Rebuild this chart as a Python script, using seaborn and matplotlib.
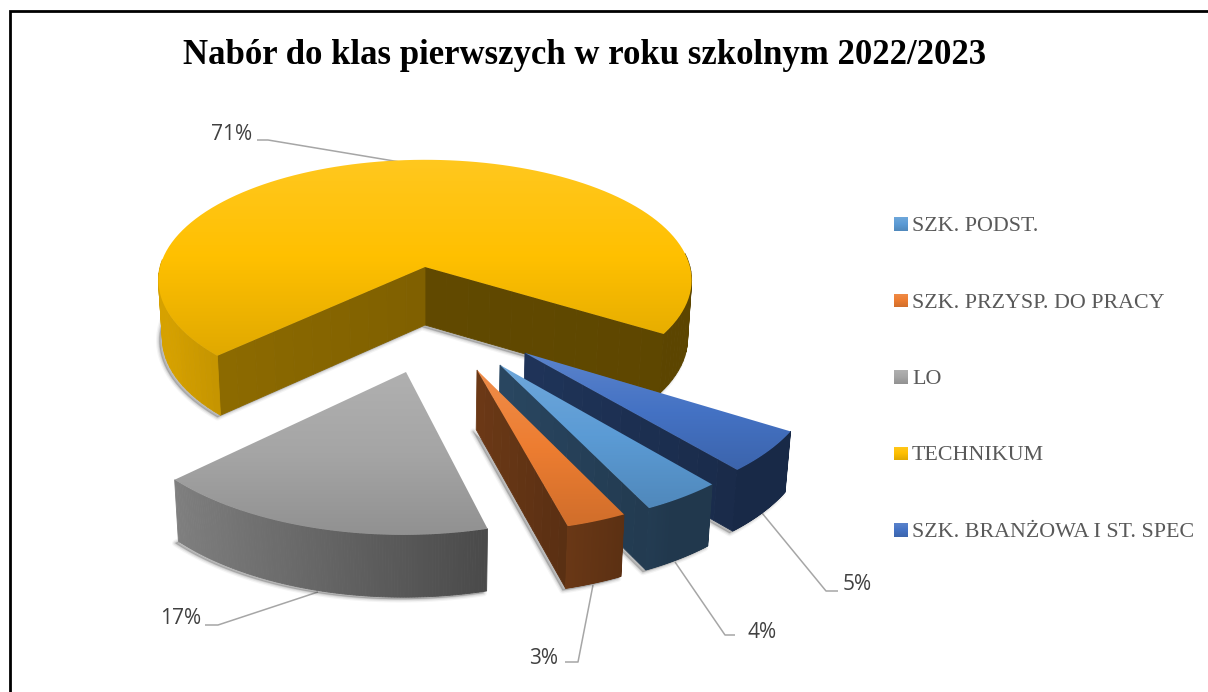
import numpy as np
import matplotlib
matplotlib.use("Agg")
import matplotlib.pyplot as plt
from matplotlib.patches import Polygon
import seaborn as sns

# data
title = "Nabór do klas pierwszych w roku szkolnym 2022/2023"
categories = ["SZK. PODST.", "SZK. PRZYSP. DO PRACY", "LO", "TECHNIKUM", "SZK. BRANŻOWA I ST. SPEC"]
values = [4, 3, 17, 71, 5]
colors = ["#5B9BD5", "#ED7D31", "#A5A5A5", "#FFC000", "#4472C4"]

# layout
W, H = 1208, 692
CX, CY, RX, RY, P, DEPTH = 425, 267, 265, 119, 0.11, 58
START = -32.0
# how far each slice is pulled out of the pie, in pixels on the page
pull = {"SZK. PODST.": (75, 98), "SZK. PRZYSP. DO PRACY": (52, 103), "LO": (-19, 105),
        "TECHNIKUM": (0, 0), "SZK. BRANŻOWA I ST. SPEC": (100, 86)}
draw_order = ["TECHNIKUM", "SZK. BRANŻOWA I ST. SPEC", "SZK. PODST.", "SZK. PRZYSP. DO PRACY", "LO"]
ring_order = ["SZK. BRANŻOWA I ST. SPEC", "SZK. PODST.", "SZK. PRZYSP. DO PRACY", "LO", "TECHNIKUM"]

sns.set_theme(style="white")
palette = dict(zip(categories, sns.color_palette(colors)))
fig = plt.figure(figsize=(W / 100, H / 100), dpi=100, facecolor="white")
ax = fig.add_axes([0, 0, 1, 1])


def proj(u, v, lower=False):
    s = 1 / (1 + P * v)
    x, y = RX * u * s, -RY * v * s
    if lower:
        return CX + x * 0.985, CY + y + DEPTH * (1 + 0.3 * (s - 1))
    return CX + x, CY + y


def unproj(dx, dy):
    v = -dy / (RY + P * dy)
    s = 1 / (1 + P * v)
    return dx / (RX * s), v


def shade(c, f):
    return tuple(np.clip(np.array(c) * f, 0, 1))


def gradient_fill(xy, c):
    xs, ys = xy[:, 0], xy[:, 1]
    t = np.linspace(0, 1, 64)[:, None]
    base = np.array(c)
    top = base + (1 - base) * 0.12
    bot = base * 0.88
    col = np.where(t < 0.5, top + (base - top) * t * 2, base + (bot - base) * (t - 0.5) * 2)
    im = ax.imshow(col[:, None, :], extent=(xs.min(), xs.max(), ys.max(), ys.min()), aspect="auto", zorder=2,
                   interpolation="bilinear")
    patch = Polygon(xy, closed=True, transform=ax.transData, fc="none", ec="none")
    ax.add_patch(patch)
    im.set_clip_path(patch)


def strip(a, b, f0, f1, c):
    for i in range(len(a) - 1):
        t = i / max(len(a) - 2, 1)
        q = np.array([a[i], a[i + 1], b[i + 1], b[i]])
        col = shade(c, f0 + (f1 - f0) * t)
        ax.add_patch(Polygon(q, closed=True, fc=col, ec=col, lw=0.6, zorder=2))


angles = {}
cur = START
for name in ring_order:
    sweep = values[categories.index(name)] * 3.6
    angles[name] = (cur - sweep, cur)
    cur -= sweep

for name in draw_order:
    a0, a1 = angles[name]
    c = palette[name]
    eu, ev = unproj(*pull[name])
    th = np.radians(np.linspace(a0, a1, 120))
    u, v = eu + np.cos(th), ev + np.sin(th)
    top_arc = np.column_stack(proj(u, v))
    bot_arc = np.column_stack(proj(u, v, True))
    ap_t = np.array(proj(eu, ev))
    ap_b = np.array(proj(eu, ev, True))

    # soft shadow
    sil = np.vstack([ap_b, bot_arc])
    for lw, al in [(8, 0.05), (5, 0.09), (2, 0.14)]:
        ax.add_patch(Polygon(sil + np.array([-3, 2]), closed=True, fc=(0.2, 0.2, 0.2, al), ec=(0.2, 0.2, 0.2, al),
                             lw=lw * 0.6, zorder=2, joinstyle="round"))

    # cut walls that face the viewer; index 0 is the edge reached last going clockwise
    if name == "TECHNIKUM":
        walls = ((0, 0.37, 0.38), (-1, 0.55, 0.5))
    elif name == "LO":
        walls = ()
    else:
        walls = ((0, 0.38, 0.45),)
    for end, f_edge, f_ap in walls:
        strip(np.linspace(top_arc[end], ap_t, 12), np.linspace(bot_arc[end], ap_b, 12), f_edge, f_ap, c)

    # outer rim, front part only
    fs = np.clip(0.53 - 0.33 * np.cos(th), 0.36, 0.84)
    for i in range(len(th) - 1):
        if np.sin(th[i]) > 0.1:
            continue
        q = np.array([top_arc[i], top_arc[i + 1], bot_arc[i + 1], bot_arc[i]])
        col = shade(c, fs[i])
        ax.add_patch(Polygon(q, closed=True, fc=col, ec=col, lw=0.6, zorder=2))

    # top face
    gradient_fill(np.vstack([ap_t, top_arc]), c)

# leader lines and data labels
leaders = {"TECHNIKUM": ([257, 268, 400], [140, 140, 162], 252, 134, "right"),
           "LO": ([205, 218, 318], [625, 625, 592], 201, 618, "right"),
           "SZK. PRZYSP. DO PRACY": ([565, 578, 593], [662, 662, 585], 558, 658, "right"),
           "SZK. PODST.": ([735, 725, 675], [635, 635, 562], 748, 632, "left"),
           "SZK. BRANŻOWA I ST. SPEC": ([838, 826, 762], [591, 591, 513], 843, 585, "left")}
for name, (lx, ly, tx, ty, ha) in leaders.items():
    ax.plot(lx, ly, color="#A6A6A6", lw=1.1, zorder=1.5, solid_capstyle="butt")
    ax.text(tx, ty, f"{values[categories.index(name)]}%", ha=ha, va="center", color="#404040",
            fontsize=15, family="Open Sans", zorder=3)

# legend
for i, name in enumerate(categories):
    y = 224 + i * 76.5
    box = np.array([[894, y - 7], [908, y - 7], [908, y + 7], [894, y + 7]])
    gradient_fill(box, palette[name])
    ax.text(912, y + 2.5, name, ha="left", va="center", color="#595959", fontsize=15.8, family="Liberation Serif",
            zorder=3)

ax.text(585, 56, title, ha="center", va="center", color="black", fontsize=25, fontweight="bold",
        family="Liberation Serif", zorder=3)

# frame: only its top and left edges fall inside the image
ax.plot([9.5, 9.5, W + 5], [H + 5, 11, 11], color="black", lw=2, zorder=3, solid_joinstyle="miter")

ax.set_xlim(0, W)
ax.set_ylim(H, 0)
ax.axis("off")
fig.savefig("out.png", dpi=100, facecolor="white")
